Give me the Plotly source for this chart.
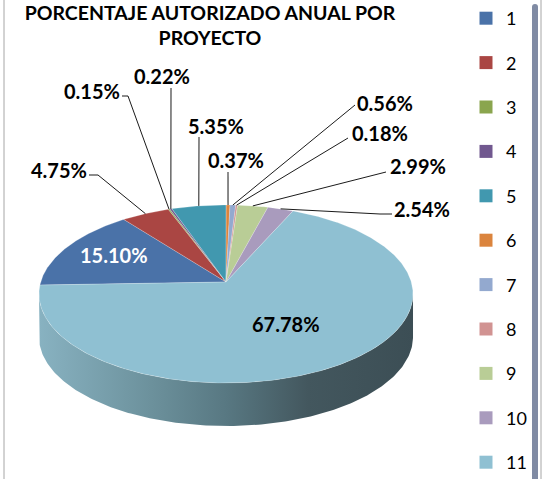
import numpy as np
import plotly.graph_objects as go

# ---- data -------------------------------------------------------------
proyectos = ["1", "2", "3", "4", "5", "6", "7", "8", "9", "10", "11"]
porcentajes = [15.10, 4.75, 0.15, 0.22, 5.35, 0.37, 0.56, 0.18, 2.99, 2.54, 67.78]
etiquetas = [f"{v:.2f}%" for v in porcentajes]

# ---- styles -----------------------------------------------------------
colores = ["#4a72a8", "#aa4643", "#8aa54e", "#71588f", "#4198af", "#db843d",
           "#93a9cf", "#d19392", "#b9cd96", "#a99bbd", "#8fc0d2"]
FUENTE = "Lato"

# ---- 3D pie geometry (pixel space, y grows downward) --------------------
W, H = 543, 479
CX, CY = 226.0, 282.0          # projected centre of the top face
RX, RY = 185.3, 87.4           # radii before perspective
PERSP = 0.1348                 # perspective strength (near side larger)
GROSOR = 43.0                  # thickness of the disc
ANGULO_INICIAL = 268.0         # first slice angle, clockwise from 12 o'clock


def proyectar(phi_deg, caida=0.0):
    phi = np.radians(phi_deg)
    x3 = np.sin(phi)
    s = -np.cos(phi)           # -1 = far edge, +1 = near edge
    w = 1.0 - PERSP * s
    return CX + RX * x3 / w, CY + RY * s / w + caida


total = sum(porcentajes)
angulos = []
a = ANGULO_INICIAL
for v in porcentajes:
    b = a + 360.0 * v / total
    angulos.append((a, b))
    a = b

fig = go.Figure()

# visible wall of the disc (front half, between the two silhouette points)
phi_izq = 360.0 - np.degrees(np.arccos(-PERSP))
phi_der = np.degrees(np.arccos(-PERSP))
arco = np.linspace(phi_der, phi_izq, 200)
xs_top, ys_top = proyectar(arco)
xs_bot, ys_bot = proyectar(arco[::-1], GROSOR)
fig.add_trace(go.Scatter(
    x=np.concatenate([xs_top, xs_bot, xs_top[:1]]),
    y=np.concatenate([ys_top, ys_bot, ys_top[:1]]),
    mode="lines", fill="toself", line=dict(width=0),
    fillgradient=dict(type="horizontal", colorscale=[
        [0.0, "#88b2c1"], [0.3, "#6c919c"], [0.5, "#587882"],
        [0.72, "#43575e"], [1.0, "#3c4e55"]]),
    hoverinfo="skip", showlegend=False))

# top face slices
for (a0, a1), color, nombre in zip(angulos, colores, proyectos):
    n = max(int((a1 - a0) / 0.5), 2)
    px, py = proyectar(np.linspace(a0, a1, n))
    fig.add_trace(go.Scatter(
        x=np.concatenate([[CX], px, [CX]]),
        y=np.concatenate([[CY], py, [CY]]),
        mode="lines", fill="toself", fillcolor=color,
        line=dict(width=0.6, color="rgba(255,255,255,0.35)"),
        name=nombre, hoverinfo="name", showlegend=False))

# label placement: text centre and the leader-line bend points
posiciones = {
    1: (59, 170), 2: (92, 91), 3: (162, 76), 4: (216, 126), 5: (236, 160),
    6: (385, 103), 7: (380, 133), 8: (418, 166), 9: (422, 209),
    0: (114, 255), 10: (286, 324),
}
codos = {
    1: [(89, 175), (98, 175)], 2: [(122, 96), (128, 96)], 3: [(171, 88)],
    4: [(199, 137)], 5: [(228, 172)], 6: [(355, 105)], 7: [(348, 138)],
    8: [(386, 172)], 9: [(392, 214), (380, 214)],
}

for i, puntos in codos.items():
    a0, a1 = angulos[i]
    ex, ey = proyectar((a0 + a1) / 2.0)
    xs = [p[0] for p in puntos] + [ex]
    ys = [p[1] for p in puntos] + [ey]
    gris = i == 5
    fig.add_trace(go.Scatter(
        x=xs, y=ys, mode="lines",
        line=dict(color="#7f7f7f" if gris else "#000000",
                  width=1.8 if gris else 0.9),
        hoverinfo="skip", showlegend=False))

for i, (tx, ty) in posiciones.items():
    fig.add_annotation(
        x=tx, y=ty, text=f"<b>{etiquetas[i]}</b>", showarrow=False,
        xanchor="center", yanchor="middle",
        font=dict(family=FUENTE, size=20,
                  color="#ffffff" if i == 0 else "#000000"))

# legend entries
for nombre, color in zip(proyectos, colores):
    fig.add_trace(go.Scatter(
        x=[None], y=[None], mode="markers", name=nombre, legendgroup=nombre,
        marker=dict(symbol="square", size=13, color=color)))

fig.update_layout(
    width=W, height=H,
    margin=dict(l=0, r=0, t=0, b=0),
    paper_bgcolor="white", plot_bgcolor="white",
    title=dict(text="<b>PORCENTAJE AUTORIZADO ANUAL POR<br>PROYECTO</b>",
               x=210 / W, xanchor="center", xref="paper",
               y=0.958, yanchor="top", yref="container",
               font=dict(family=FUENTE, size=19.5, color="#000000")),
    xaxis=dict(range=[0, W], visible=False, fixedrange=True),
    yaxis=dict(range=[H, 0], visible=False, fixedrange=True),
    legend=dict(x=(489 - 23) / W, xanchor="left", y=1.0, yanchor="top",
                font=dict(family=FUENTE, size=18, color="#000000"),
                tracegroupgap=18, bgcolor="rgba(0,0,0,0)"),
    shapes=[
        dict(type="line", xref="paper", yref="paper", x0=4 / W, x1=4 / W,
             y0=0, y1=1, line=dict(color="#a6a6a6", width=1)),
        dict(type="line", xref="paper", yref="paper", x0=541 / W, x1=541 / W,
             y0=0, y1=1, line=dict(color="#a6a6a6", width=1)),
    ],
)

fig.write_html("out.html")
